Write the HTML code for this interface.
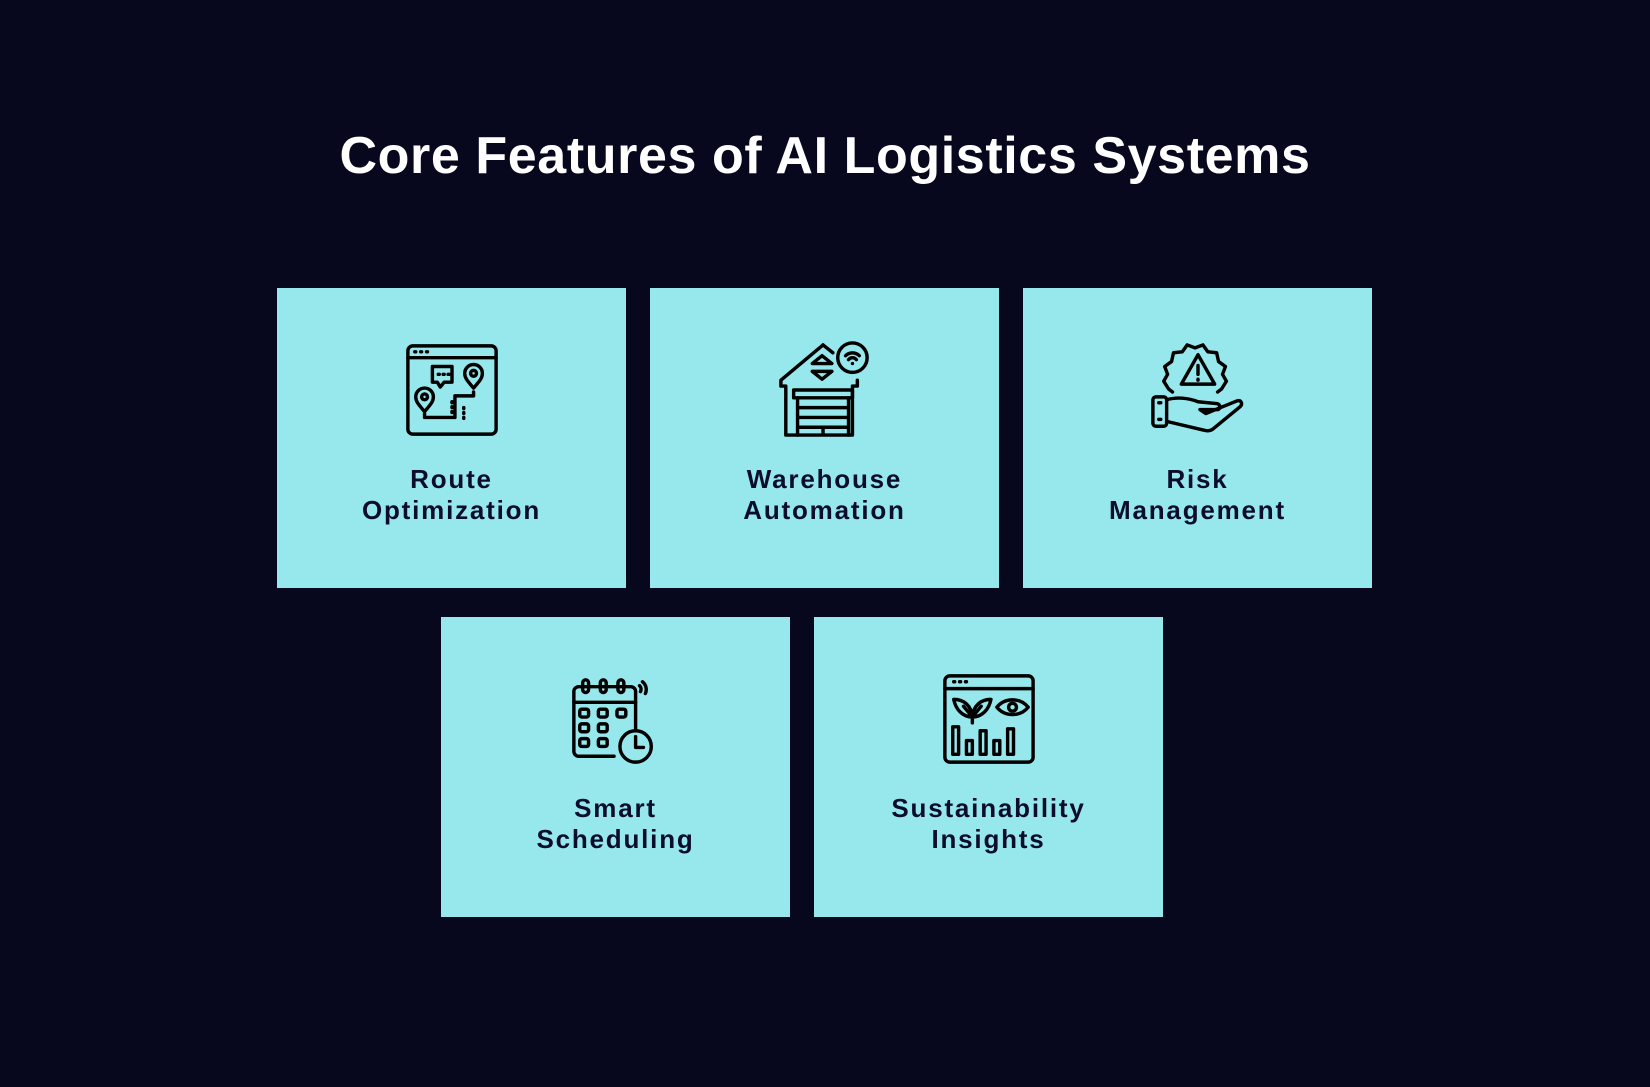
<!DOCTYPE html>
<html><head><meta charset="utf-8"><style>
html,body{margin:0;padding:0}
body{width:1650px;height:1087px;background:#07081e;position:relative;overflow:hidden;font-family:"Liberation Sans",sans-serif}
h1{position:absolute;left:0;width:1650px;top:124px;margin:0;text-align:center;color:#fff;font-size:52px;font-weight:bold;line-height:64px;letter-spacing:0.6px}
.c{position:absolute;background:#97e8ec;width:349px;height:300px}
.c svg{position:absolute;left:126px;top:53px;width:98px;height:98px}
.t{position:absolute;left:0;right:0;top:176px;text-align:center;color:#0c0c2c;font-weight:bold;font-size:26px;line-height:31px;letter-spacing:1.8px}
svg *{fill:none;stroke:#000;stroke-width:3.5;stroke-linecap:round;stroke-linejoin:round}
</style></head><body>
<h1>Core Features of AI Logistics Systems</h1>

<div class="c" style="left:277px;top:288px">
<svg viewBox="0 0 100 100"><rect x="5" y="5" width="90" height="90" rx="5"/><line x1="5" y1="17" x2="95" y2="17"/><path d="M12 11h1M18 11h1M24 11h1"/><path d="M30 26h20v16h-8l-4 5-3-5h-5z"/><path d="M36 34h1M41 34h1M46 34h1"/><path d="M72 48c-6-7-9-10-9-15a9 9 0 0 1 18 0c0 5-3 8-9 15z"/><circle cx="72" cy="33" r="3"/><path d="M22 72c-6-7-9-10-9-15a9 9 0 0 1 18 0c0 5-3 8-9 15z"/><circle cx="22" cy="57" r="3"/><path d="M72 52v4H53v22H22v-4"/><path d="M50 62v1M50 67v1M50 72v1M62 68v1M62 73v1M62 78v1"/></svg>
<div class="t">Route<br>Optimization</div></div>

<div class="c" style="left:650px;top:288px">
<svg viewBox="0 0 100 100"><path d="M48 4L5 40v6h5v50h68V46h5v-6"/><path d="M48 4l10 8"/><circle cx="78" cy="17" r="15"/><path d="M71 15a10 10 0 0 1 14 0M74 19a5 5 0 0 1 8 0M78 23h0"/><path d="M37 23l10-8 10 8zM37 31l10 8 10-8z"/><rect x="18" y="50" width="60" height="8"/><path d="M22 58v38M74 58v38M22 68h52M22 78h52M22 88h52M48 90v4"/></svg>
<div class="t">Warehouse<br>Automation</div></div>

<div class="c" style="left:1023px;top:288px">
<svg viewBox="0 0 100 100"><path d="M24 52l-4-3-5-8 4-7-3-8 7-5 2-9 9-1 5-7 8 3 8-3 5 7 9 1 2 9 7 5-3 8 4 7-5 8-4 3"/><path d="M50 14L33 44h34z"/><path d="M50 25v9M50 39v1"/><rect x="4" y="57" width="14" height="30" rx="3"/><path d="M10 63h2M10 80h2"/><path d="M18 60c10-3 22-2 32 2l20 2c3 1 3 6 0 6H52l6 4 32-13c4-1 6 3 3 6L65 90c-3 2-6 2-9 1L18 82"/></svg>
<div class="t">Risk<br>Management</div></div>

<div class="c" style="left:441px;top:617px">
<svg viewBox="0 0 100 100"><path d="M48 88H12a5 5 0 0 1-5-5V22a5 5 0 0 1 5-5h53a5 5 0 0 1 5 5v38"/><line x1="7" y1="33" x2="70" y2="33"/><rect x="16" y="10" width="6" height="13" rx="3"/><rect x="34" y="10" width="6" height="13" rx="3"/><rect x="52" y="10" width="6" height="13" rx="3"/><path d="M77 12a10 10 0 0 1 3 12M74 16a5 5 0 0 1 1 6"/><rect x="13" y="40" width="9" height="8" rx="2"/><rect x="32" y="40" width="9" height="8" rx="2"/><rect x="51" y="40" width="9" height="8" rx="2"/><rect x="13" y="55" width="9" height="8" rx="2"/><rect x="32" y="55" width="9" height="8" rx="2"/><rect x="13" y="70" width="9" height="8" rx="2"/><rect x="32" y="70" width="9" height="8" rx="2"/><circle cx="70" cy="78" r="16"/><path d="M70 68v11h8"/></svg>
<div class="t">Smart<br>Scheduling</div></div>

<div class="c" style="left:814px;top:617px">
<svg viewBox="0 0 100 100"><rect x="5" y="6" width="90" height="88" rx="5"/><line x1="5" y1="19" x2="95" y2="19"/><path d="M14 12h1M20 12h1M26 12h1"/><path d="M33 48c-10 0-17-8-19-18 10 0 18 6 19 18zM33 48c10 0 17-8 19-18-10 0-18 6-19 18zM33 48v6M24 37l9 11M42 37l-9 11"/><path d="M58 38c8-10 24-10 32 0-8 10-24 10-32 0z"/><circle cx="74" cy="38" r="4"/><rect x="13" y="58" width="6" height="28"/><rect x="27" y="72" width="6" height="14"/><rect x="41" y="62" width="6" height="24"/><rect x="55" y="72" width="6" height="14"/><rect x="69" y="60" width="6" height="26"/></svg>
<div class="t">Sustainability<br>Insights</div></div>
</body></html>
